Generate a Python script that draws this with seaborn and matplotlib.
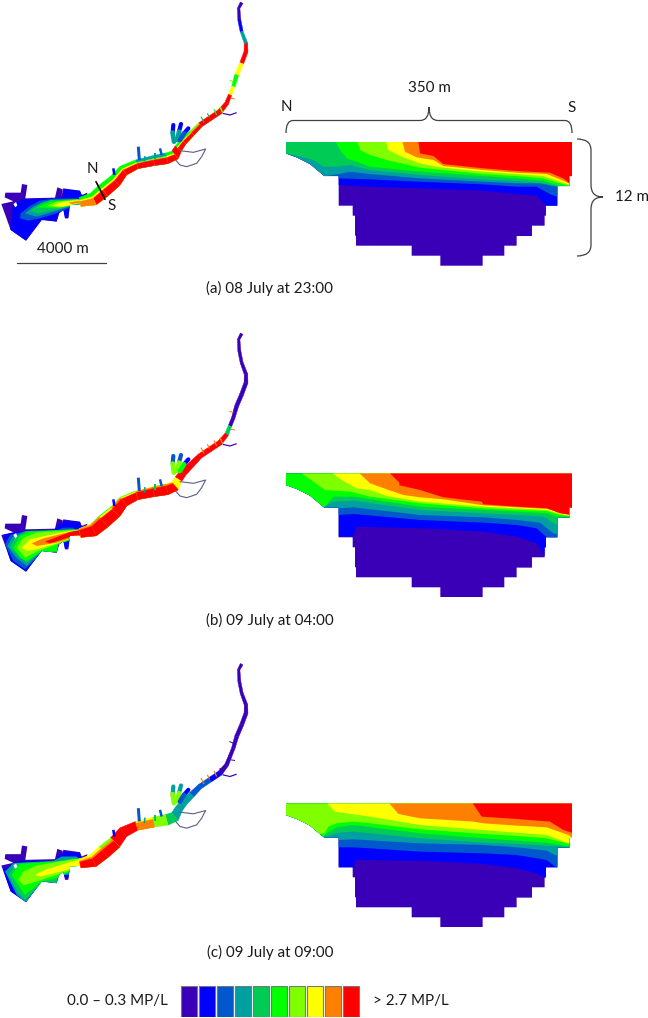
import numpy as np
import matplotlib
matplotlib.use("Agg")
import matplotlib.pyplot as plt
from matplotlib.patches import Polygon, PathPatch
from matplotlib.path import Path
import seaborn as sns

sns.set_theme(style="white")
plt.rcParams['font.family'] = ['Lato', 'DejaVu Sans']

W, H = 648, 1018

# concentration classes
levels = ["0.0-0.3", "0.3-0.6", "0.6-0.9", "0.9-1.2", "1.2-1.5",
          "1.5-1.8", "1.8-2.1", "2.1-2.4", "2.4-2.7", ">2.7"]
colors = ["#3a00b8", "#0000ff", "#0058cc", "#00a0a0", "#00cc55",
          "#00ff00", "#80ff00", "#ffff00", "#ff8000", "#ff0000"]
swatch = [1] * 10

captions = ["(a) 08 July at 23:00", "(b) 09 July at 04:00", "(c) 09 July at 09:00"]

# cross section bed, digitised units (860 = 350 m, 31 = 1 m)
bed_x = [47, 907, 907, 898, 898, 862, 862, 828, 828, 824, 824, 786, 786, 740, 740, 703, 703,
         638, 638, 511, 511, 425, 425, 258, 258, 255, 255, 248, 248, 206, 206, 163, 120, 80, 47]
bed_d = [0, 0, 103, 103, 133, 133, 192, 192, 222, 222, 252, 252, 283, 283, 312, 312, 342,
         342, 372, 372, 342, 342, 312, 312, 282, 282, 222, 222, 192, 192, 103, 103, 67, 47, 35]

# lower edge of each class (blue upward) for the three times
sec_a = [
    [(47, 130), (206, 130), (300, 135), (450, 140), (640, 147), (740, 157), (800, 161), (828, 192), (910, 195)],
    [(47, 110), (206, 110), (300, 113), (450, 120), (640, 128), (740, 135), (800, 135), (845, 160), (865, 165), (910, 170)],
    [(47, 45), (120, 75), (165, 103), (206, 97), (240, 90), (300, 97), (450, 110), (640, 120), (740, 125), (810, 125), (860, 135), (910, 137)],
    [(47, 35), (100, 47), (130, 55), (160, 75), (200, 75), (240, 70), (300, 85), (450, 100), (640, 113), (740, 118), (820, 125), (860, 133), (910, 137)],
    [(197, 0), (210, 25), (230, 50), (260, 60), (300, 75), (450, 90), (640, 103), (740, 110), (820, 117), (860, 130), (910, 135)],
    [(262, 0), (270, 25), (300, 40), (350, 55), (450, 78), (640, 97), (740, 103), (820, 110), (870, 125), (910, 135)],
    [(348, 0), (355, 25), (400, 47), (450, 65), (510, 77), (640, 90), (740, 97), (820, 103), (870, 120), (910, 133)],
    [(397, 0), (405, 30), (440, 47), (490, 55), (520, 73), (640, 85), (740, 93), (830, 97), (875, 115), (910, 130)],
    [(445, 0), (450, 35), (490, 43), (520, 67), (640, 80), (740, 88), (840, 93), (880, 110), (898, 125), (910, 125)],
]
sec_b = [
    [(47, 190), (248, 190), (260, 160), (450, 165), (640, 175), (740, 190), (800, 210), (825, 250), (910, 255)],
    [(47, 125), (206, 125), (250, 122), (450, 140), (640, 148), (740, 155), (800, 165), (830, 192), (910, 195)],
    [(47, 105), (206, 105), (250, 102), (450, 125), (640, 132), (740, 140), (810, 148), (850, 180), (910, 192)],
    [(47, 100), (160, 100), (190, 85), (250, 82), (450, 110), (640, 120), (740, 125), (820, 130), (862, 155), (910, 160)],
    [(47, 60), (120, 100), (165, 100), (190, 70), (250, 70), (450, 100), (640, 110), (740, 115), (830, 120), (862, 130), (910, 130)],
    [(95, 0), (130, 25), (165, 50), (240, 55), (300, 70), (450, 90), (640, 105), (740, 110), (830, 113), (870, 125), (910, 130)],
    [(187, 0), (215, 20), (260, 45), (300, 50), (350, 68), (450, 85), (640, 100), (740, 105), (830, 110), (870, 122), (910, 130)],
    [(268, 0), (300, 30), (350, 48), (400, 65), (450, 72), (520, 78), (640, 96), (740, 102), (835, 107), (875, 120), (910, 128)],
    [(360, 0), (388, 28), (388, 36), (450, 50), (520, 72), (635, 85), (640, 93), (740, 100), (830, 105), (870, 120), (910, 125)],
]
sec_c = [
    [(47, 195), (248, 195), (258, 170), (450, 172), (640, 182), (740, 195), (800, 210), (825, 225), (910, 230)],
    [(47, 132), (206, 132), (250, 132), (450, 145), (640, 150), (740, 155), (830, 170), (862, 195), (910, 200)],
    [(47, 110), (206, 110), (250, 108), (450, 120), (640, 125), (740, 132), (830, 142), (855, 155), (910, 165)],
    [(47, 100), (165, 100), (206, 88), (250, 85), (450, 105), (640, 118), (740, 122), (830, 127), (910, 132)],
    [(47, 100), (160, 100), (170, 90), (200, 72), (250, 65), (450, 90), (640, 105), (740, 112), (830, 118), (910, 132)],
    [(47, 100), (163, 90), (175, 70), (200, 60), (250, 55), (300, 60), (450, 78), (640, 92), (740, 98), (830, 105), (890, 120), (910, 125)],
    [(172, 0), (195, 25), (250, 33), (300, 40), (450, 65), (640, 80), (740, 88), (830, 95), (890, 118), (910, 118)],
    [(358, 0), (385, 32), (450, 45), (610, 55), (640, 60), (740, 67), (830, 72), (895, 95), (910, 105)],
    [(608, 0), (635, 40), (740, 47), (840, 55), (880, 80), (910, 90)],
]

river_x = [725, 716, 718, 725, 738, 738, 725, 710, 700, 690, 680, 660, 630, 600, 575, 550,
           535, 525, 500, 460, 410, 370, 345, 310, 280, 240]
river_y = [8, 25, 60, 95, 130, 155, 190, 225, 260, 285, 310, 335, 355, 375, 400, 425,
           445, 465, 475, 482, 493, 512, 543, 572, 597, 606]
river_w = [3, 2.5, 3, 3, 3.5, 4, 4, 4, 3.5, 3.5, 4, 5, 5, 5, 6, 7,
           8, 10, 11, 10, 9, 11, 13, 14, 13, 9]

# class per river stretch, main channel and south side
north_a = [0, 0, 1, 3, 9, 9, 7, 5, 7, 9, 9, 9, 9, 6, 5, 5, 9, 5, 3, 3, 5, 5, 5, 5, 5]
south_a = [0, 0, 1, 3, 9, 9, 7, 5, 7, 9, 9, 9, 9, 9, 9, 9, 9, 9, 9, 9, 9, 9, 9, 9, 8]
north_b = [0, 0, 0, 0, 0, 0, 0, 0, 0, 4, 9, 9, 9, 9, 9, 9, 7, 7, 6, 7, 5, 6, 5, 6, 7]
south_b = [0, 0, 0, 0, 0, 0, 0, 0, 0, 4, 9, 9, 9, 9, 9, 9, 7, 9, 9, 9, 9, 9, 9, 9, 9]
north_c = [0, 0, 0, 0, 0, 0, 0, 0, 0, 0, 0, 1, 2, 2, 3, 3, 3, 4, 6, 7, 9, 9, 6, 7, 7]
south_c = [0, 0, 0, 0, 0, 0, 0, 0, 0, 0, 0, 1, 2, 2, 3, 3, 3, 4, 6, 8, 9, 9, 9, 9, 9]

# bay outline and hole
bay_x = [4, 40, 14, 16, 62, 66, 82, 76, 165, 172, 188, 184, 190, 240, 245, 262, 258, 210, 205, 195, 190, 178, 170, 125, 78, 32]
bay_y = [612, 604, 592, 578, 578, 552, 555, 595, 593, 562, 568, 590, 565, 572, 585, 578, 612, 615, 655, 655, 630, 640, 665, 660, 722, 690]
hole_x = [40, 48, 52, 46]
hole_y = [612, 606, 616, 622]

# plume shapes in the bay, by class
plume_a = [
    (1, [(40, 610), (75, 597), (160, 595), (190, 590), (190, 568), (240, 572), (262, 610), (210, 615), (205, 655), (195, 655), (190, 630), (175, 640), (170, 665), (130, 660), (78, 725), (30, 690), (35, 650)]),
    (2, [(60, 655), (62, 640), (90, 618), (120, 602), (160, 596), (230, 595), (235, 612), (170, 640), (120, 655), (85, 662)]),
    (3, [(75, 640), (100, 620), (130, 605), (230, 597), (235, 612), (170, 632), (110, 650)]),
    (4, [(90, 632), (120, 612), (150, 600), (235, 597), (235, 612), (170, 628), (115, 640)]),
    (5, [(110, 622), (150, 605), (240, 597), (240, 612), (170, 625)]),
    (6, [(140, 618), (170, 605), (240, 598), (240, 610), (180, 622)]),
    (7, [(155, 618), (190, 605), (240, 600), (240, 608), (190, 620)]),
    (8, [(205, 608), (250, 600), (260, 605), (215, 612)]),
]
plume_b = [
    (1, [(10, 610), (70, 600), (160, 598), (190, 570), (240, 572), (258, 610), (210, 620), (205, 650), (195, 655), (190, 630), (175, 640), (170, 670), (130, 665), (78, 725), (30, 695)]),
    (2, [(15, 640), (30, 612), (75, 600), (165, 600), (190, 590), (220, 590), (230, 620), (175, 640), (165, 665), (130, 662), (75, 715), (40, 690)]),
    (3, [(22, 645), (38, 618), (78, 600), (165, 598), (215, 595), (230, 620), (175, 640), (168, 665), (125, 660), (80, 705), (48, 680)]),
    (4, [(30, 650), (45, 620), (80, 600), (165, 598), (225, 595), (230, 620), (175, 640), (170, 665), (125, 660), (80, 695), (55, 675)]),
    (5, [(40, 650), (60, 615), (90, 602), (170, 598), (240, 595), (240, 615), (175, 640), (170, 660), (120, 665), (80, 690), (60, 680)]),
    (6, [(50, 650), (70, 620), (110, 605), (180, 600), (240, 595), (240, 612), (170, 640), (110, 662), (75, 680)]),
    (7, [(65, 650), (90, 625), (190, 603), (240, 598), (240, 612), (170, 637), (110, 655), (80, 660)]),
    (8, [(95, 637), (130, 622), (200, 605), (240, 598), (240, 612), (170, 635), (110, 645)]),
    (9, [(135, 632), (210, 603), (250, 595), (260, 612), (220, 615), (150, 637)]),
]
plume_c = [
    (1, [(10, 625), (50, 600), (70, 598), (160, 598), (190, 570), (240, 575), (250, 600), (210, 620), (205, 650), (175, 640), (170, 670), (130, 665), (78, 725), (30, 695)]),
    (3, [(15, 630), (40, 605), (160, 598), (185, 585), (230, 585), (250, 610), (205, 640), (175, 640), (170, 668), (130, 662), (78, 725), (50, 700)]),
    (4, [(25, 640), (50, 605), (165, 600), (225, 590), (240, 615), (175, 640), (168, 665), (130, 660), (75, 715), (55, 695)]),
    (5, [(35, 640), (60, 607), (170, 600), (240, 590), (240, 615), (170, 650), (125, 660), (75, 700), (60, 680)]),
    (6, [(55, 655), (70, 630), (110, 612), (180, 600), (245, 590), (245, 615), (170, 640), (110, 660), (70, 672)]),
    (7, [(105, 640), (135, 625), (200, 605), (250, 592), (245, 612), (175, 632), (120, 645)]),
]

# harbour fingers: tip, middle, base; tip class then base class per time
dock_x = [(520, 518, 522), (543, 537, 532), (565, 552, 540)]
dock_y = [(375, 398, 425), (372, 395, 420), (385, 400, 420)]
dock_a = [(1, 3), (1, 3), (1, 2)]
dock_b = [(2, 6), (2, 6), (1, 5)]
dock_c = [(3, 6), (3, 6), (1, 2)]

# side creeks: x, y, width px, class per time
creek_x = [(415, 418), (340, 343), (480, 485), (465, 465), (435, 433), (688, 700), (693, 705),
           (603, 612), (622, 628), (642, 650), (660, 668), (668, 690, 710)]
creek_y = [(440, 480), (505, 525), (445, 465), (460, 478), (468, 485), (240, 245), (295, 297),
           (350, 368), (340, 352), (328, 345), (320, 338), (340, 345, 338)]
creek_w = [3, 2.5, 2.5, 2, 1.5, 1, 1, 1.2, 1.2, 1.2, 1.5, 1.2]
creek_a = [2, 1, 2, 3, 3, 6, 8, 4, 4, 5, 6, 0]
creek_b = [2, 1, 2, 4, 3, 8, 8, 8, 8, 8, 8, 0]
creek_c = [2, 1, 2, 4, 3, 0, 0, 8, 8, 8, 0, 0]

# lagoon outline
lagoon_x = [540, 580, 617, 605, 590, 560, 540, 527]
lagoon_y = [452, 457, 447, 470, 490, 500, 495, 480]

# where the south side colour starts across the channel (-0.5 north bank, 0.5 south bank)
split_a = -0.05
split_b = -0.3
split_c = -0.15

fig = plt.figure(figsize=(W / 100, H / 100), dpi=100)


def box(x0, y0, x1, y1):
    a = fig.add_axes([x0 / W, 1 - y1 / H, (x1 - x0) / W, (y1 - y0) / H])
    a.axis("off")
    return a


def draw_section(top, bands):
    a = box(285.7, top, 572.3, top + 124)
    a.set_xlim(47, 907)
    a.set_ylim(372, 0)
    a.patch.set_alpha(0)
    bed = Polygon(np.c_[bed_x, bed_d], closed=True, fc=colors[0], ec="none")
    a.add_patch(bed)
    for i, band in enumerate(bands):
        xs, ds = zip(*band)
        px = list(xs) + [910, xs[0]]
        pd_ = list(ds) + [0, 0]
        p, = a.fill(px, pd_, color=colors[i + 1], lw=0)
        p.set_clip_path(bed)


# unit vector across the channel at each river point, pointing to the south bank
rx, ry, rw = np.array(river_x, float), np.array(river_y, float), np.array(river_w, float) * 3
dx, dy_ = np.gradient(rx), np.gradient(ry)
norm = np.hypot(dx, dy_)
nx, ny = dy_ / norm, -dx / norm


def river_strip(a, i, lev, t0, t1):
    # one stretch of the river between two fractions of its width
    idx = [i, i + 1, i + 1, i]
    ts = [t0, t0, t1, t1]
    px = [rx[k] + nx[k] * rw[k] * t for k, t in zip(idx, ts)]
    py = [ry[k] + ny[k] * rw[k] * t for k, t in zip(idx, ts)]
    a.fill(px, py, color=colors[lev], lw=0.3)


def draw_map(dy, plume, north, south, docks, creeks, split):
    a = box(0, dy, 280, dy + 300)
    a.set_xlim(0, 840)
    a.set_ylim(900, 0)
    a.patch.set_alpha(0)
    bay = Polygon(np.c_[bay_x, bay_y], closed=True, fc=colors[0], ec="none")
    a.add_patch(bay)
    for lev, pts in plume:
        p, = a.fill(*zip(*pts), color=colors[lev], lw=0)
        p.set_clip_path(bay)
    a.fill(hole_x, hole_y, color="white", lw=0)
    a.plot(lagoon_x, lagoon_y, color="#5c5c88", lw=0.8)
    for cx, cy, w, lev in zip(creek_x, creek_y, creek_w, creeks):
        a.plot(cx, cy, color=colors[lev], lw=w * 0.72, solid_capstyle="butt")
    for fx, fy, (tip, base) in zip(dock_x, dock_y, docks):
        a.plot(fx[:2], fy[:2], color=colors[tip], lw=3, solid_capstyle="round")
        a.plot(fx[1:], fy[1:], color=colors[base], lw=3.4, solid_capstyle="round")
    for i in range(len(north)):
        river_strip(a, i, north[i], -0.5, 0.5)
    for i in range(len(south)):
        if south[i] != north[i]:
            river_strip(a, i, (north[i] + south[i] + 1) // 2, split - 0.14, 0.5)
            river_strip(a, i, south[i], split, 0.5)
    return a


map_a = draw_map(0, plume_a, north_a, south_a, dock_a, creek_a, split_a)
draw_map(331, plume_b, north_b, south_b, dock_b, creek_b, split_b)
draw_map(661.5, plume_c, north_c, south_c, dock_c, creek_c, split_c)
map_a.plot([288, 315], [545, 598], color="black", lw=1.2)
map_a.plot([52, 317], [788, 788], color="#404040", lw=0.9)

draw_section(141.7, sec_a)
draw_section(473.3, sec_b)
draw_section(803.3, sec_c)

# colour key
ax_key = box(179.7, 986, 359.7, 1017)
sns.barplot(x=levels, y=swatch, hue=levels, palette=colors, dodge=False, legend=False, saturation=1,
            width=0.89, edgecolor="#777777", linewidth=0.8, ax=ax_key)
ax_key.set_xlim(-0.5, 9.5)
ax_key.set_ylim(0, 1)
ax_key.axis("off")

# text and braces on a page wide layer
page = box(0, 0, W, H)
page.set_xlim(0, W)
page.set_ylim(H, 0)
page.patch.set_alpha(0)

fs = 10.9
tc = "#1a1a1a"
for t, y in zip(captions, [288, 620.5, 952]):
    page.text(270, y, t, ha="center", va="center", fontsize=fs, color=tc)
page.text(62.5, 249, "4000 m", ha="center", va="center", fontsize=fs, color=tc)
page.text(92.5, 169, "N", ha="center", va="center", fontsize=fs, color=tc)
page.text(112, 206, "S", ha="center", va="center", fontsize=fs, color=tc)
page.text(286, 107, "N", ha="center", va="center", fontsize=fs, color=tc)
page.text(572, 108, "S", ha="center", va="center", fontsize=fs, color=tc)
page.text(429, 88, "350 m", ha="center", va="center", fontsize=fs, color=tc)
page.text(632, 197, "12 m", ha="center", va="center", fontsize=fs, color=tc)
page.text(117, 1001, "0.0 \u2013 0.3 MP/L", ha="center", va="center", fontsize=fs, color=tc)
page.text(410.5, 1001, "> 2.7 MP/L", ha="center", va="center", fontsize=fs, color=tc)

top_brace = Path(
    [(286, 133), (286, 120.5), (293, 120.5), (420, 120.5), (429, 120.5), (429, 107),
     (429, 120.5), (438, 120.5), (565, 120.5), (572, 120.5), (572, 133)],
    [Path.MOVETO, Path.CURVE3, Path.CURVE3, Path.LINETO, Path.CURVE3, Path.CURVE3,
     Path.CURVE3, Path.CURVE3, Path.LINETO, Path.CURVE3, Path.CURVE3])
side_brace = Path(
    [(577, 139), (591, 139), (591, 150), (591, 185), (591, 197), (603, 197),
     (591, 197), (591, 209), (591, 245), (591, 256), (577, 256)],
    [Path.MOVETO, Path.CURVE3, Path.CURVE3, Path.LINETO, Path.CURVE3, Path.CURVE3,
     Path.CURVE3, Path.CURVE3, Path.LINETO, Path.CURVE3, Path.CURVE3])
for b in (top_brace, side_brace):
    page.add_patch(PathPatch(b, fc="none", ec="#404040", lw=0.9))

fig.savefig("out.png", dpi=100)
